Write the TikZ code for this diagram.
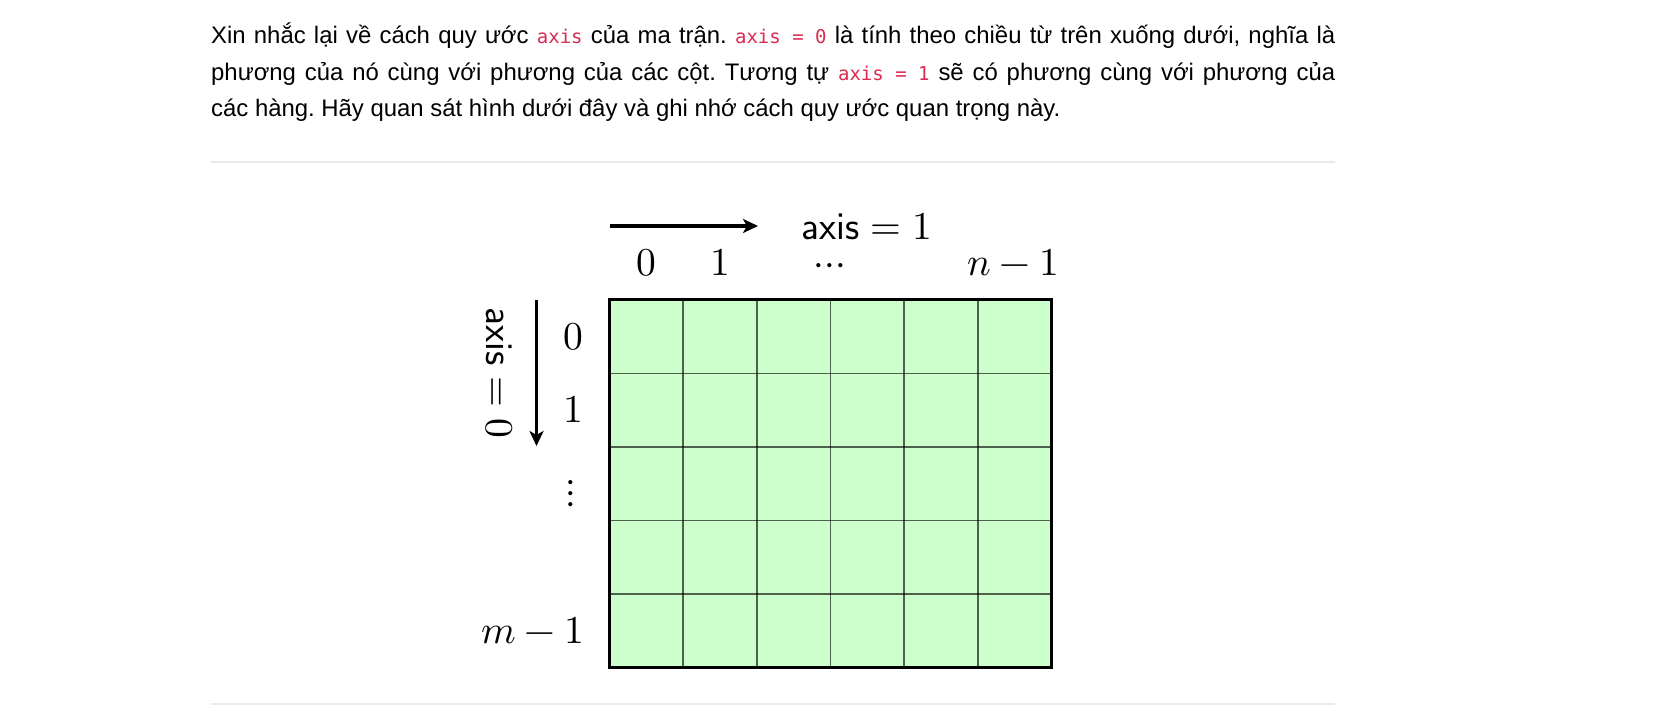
\documentclass[tikz,border=0pt]{standalone}
\usepackage{fontspec}
\usepackage{unicode-math}
\setmathfont{Latin Modern Math}
\usetikzlibrary{arrows.meta}
\newfontfamily\bodyfont{Liberation Sans}
\newfontfamily\codefont{DejaVu Sans Mono}
\definecolor{codered}{HTML}{DC2B50}
\definecolor{gridgreen}{HTML}{CCFFCC}
\definecolor{sepgray}{HTML}{EAEAEA}
\newcommand\codespan[1]{\mbox{\codefont\fontsize{19}{22}\selectfont\color{codered}#1}}
\frenchspacing
\begin{document}
\begin{tikzpicture}[x=1pt,y=-1pt,
  bodytext/.style={anchor=base west, inner sep=0pt, font=\bodyfont\fontsize{23.9}{28}\selectfont},
  mlabel/.style={inner sep=0pt, font=\fontsize{39.5}{44}\selectfont},
  axisarrow/.style={line width=3.6pt, -{Stealth[length=15pt,width=14pt,inset=4pt]}},
  gridline/.style={draw=black, draw opacity=0.62, line width=1.7pt},
  sepline/.style={draw=sepgray, line width=1.2pt}]
\useasboundingbox (0,0) rectangle (1663,711);
\fill[white] (0,0) rectangle (1663,711);
% paragraph
\node[bodytext] (l1) at (211,44) {\makebox[1124pt][s]{Xin nhắc lại về cách quy ước \codespan{axis} của ma trận. \codespan{axis = 0} là tính theo chiều từ trên xuống dưới, nghĩa là}};
\node[bodytext] (l2) at (211,81) {\makebox[1124pt][s]{phương của nó cùng với phương của các cột. Tương tự \codespan{axis = 1} sẽ có phương cùng với phương của}};
\node[bodytext] (l3) at (211,117) {các hàng. Hãy quan sát hình dưới đây và ghi nhớ cách quy ước quan trọng này.};
% separators
\coordinate (s1a) at (211,162); \coordinate (s1b) at (1335,162);
\coordinate (s2a) at (211,704); \coordinate (s2b) at (1335,704);
\draw[sepline] (s1a) -- (s1b);
\draw[sepline] (s2a) -- (s2b);
% grid
\fill[gridgreen] (609.5,300) rectangle (1051.5,667.5);
\foreach \i in {1,...,5} \draw[gridline] ({609.5+\i*73.667},300) -- ({609.5+\i*73.667},667.5);
\foreach \j in {1,...,4} \draw[gridline] (609.5,{300+\j*73.5}) -- (1051.5,{300+\j*73.5});
\draw[line width=3pt] (609.5,300) rectangle (1051.5,667.5);
% top labels
\coordinate (ta) at (610,226); \coordinate (tb) at (758,226);
\draw[axisarrow] (ta) -- (tb);
\node[mlabel, anchor=base] (ax1) at (867,239.5) {$\textsf{axis}=1$};
\node[mlabel, anchor=base] (c0) at (646.5,275.5) {$0$};
\node[mlabel, anchor=base] (c1) at (720,275.5) {$1$};
\node[mlabel, anchor=base] (cd) at (830,275.5) {$\smash{\cdots}$};
\node[mlabel, anchor=base] (cn) at (1013,275.5) {$n-1$};
% left labels
\coordinate (la) at (536.5,300); \coordinate (lb) at (536.5,446);
\draw[axisarrow] (la) -- (lb);
\node[mlabel, rotate=-90, anchor=base] (ax0) at (486,373) {$\textsf{axis}=0$};
\node[mlabel, anchor=base] (r0) at (573,349) {$0$};
\node[mlabel, anchor=base] (r1) at (573,422) {$1$};
\node[mlabel] (rd) at (571,494) {$\vdots$};
\node[mlabel, anchor=base east] (rm) at (584,643) {$m-1$};
\end{tikzpicture}
\end{document}
